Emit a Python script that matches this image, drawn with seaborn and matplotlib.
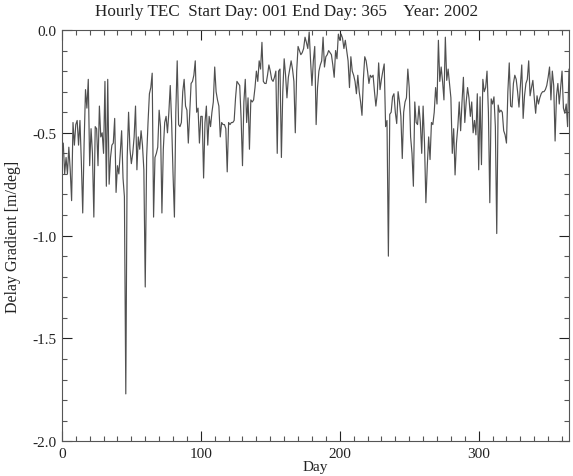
import numpy as np
import pandas as pd
import seaborn as sns
import matplotlib
matplotlib.use("Agg")
import matplotlib.pyplot as plt
from matplotlib.ticker import MultipleLocator

# Daily delay gradient [m/deg], one value per day
q1 = [-0.55, -0.70, -0.62, -0.70, -0.57, -0.68, -0.83, -0.45, -0.56, -0.46,
      -0.44, -0.56, -0.44, -0.64, -0.89, -0.55, -0.29, -0.38, -0.24, -0.66,
      -0.48, -0.60, -0.91, -0.47, -0.48, -0.66, -0.37, -0.52, -0.50, -0.60,
      -0.25, -0.76, -0.24, -0.75, -0.62, -0.56, -0.55, -0.43, -0.79, -0.66,
      -0.70, -0.60, -0.49, -0.72, -0.81, -1.77, -0.62, -0.40, -0.58, -0.65,
      -0.60, -0.52, -0.37, -0.68, -0.52, -0.58, -0.49, -0.56, -0.68, -1.25,
      -0.62, -0.45, -0.31, -0.28, -0.21, -0.91, -0.62, -0.60, -0.57, -0.39,
      -0.47, -0.89, -0.58, -0.45, -0.42, -0.50, -0.40, -0.27, -0.45, -0.70,
      -0.91, -0.40, -0.15, -0.46, -0.47, -0.45, -0.30, -0.24, -0.37, -0.39]
q2 = [-0.55, -0.40, -0.26, -0.25, -0.22, -0.15, -0.40, -0.38, -0.55, -0.42,
      -0.42, -0.72, -0.45, -0.37, -0.56, -0.42, -0.47, -0.40, -0.35, -0.18,
      -0.30, -0.34, -0.37, -0.52, -0.45, -0.46, -0.46, -0.48, -0.69, -0.45,
      -0.46, -0.45, -0.45, -0.44, -0.33, -0.25, -0.26, -0.27, -0.43, -0.66,
      -0.35, -0.24, -0.45, -0.33, -0.58, -0.34, -0.35, -0.34, -0.28, -0.20,
      -0.25, -0.15, -0.19, -0.06, -0.25, -0.26, -0.26, -0.22, -0.17, -0.20,
      -0.24, -0.25, -0.23, -0.20, -0.60, -0.20, -0.19, -0.62, -0.30, -0.14,
      -0.22, -0.33, -0.23, -0.19, -0.15, -0.19, -0.25, -0.50, -0.20, -0.08,
      -0.10, -0.12, -0.11, -0.09, -0.035, -0.06, -0.09, -0.01, -0.15, -0.27]
q3 = [-0.15, -0.08, -0.46, -0.28, -0.20, -0.17, -0.15, -0.035, -0.18, -0.13,
      -0.12, -0.10, -0.11, -0.12, -0.17, -0.23, -0.10, -0.14, -0.02, -0.05,
      -0.02, -0.04, -0.09, -0.05, -0.10, -0.15, -0.28, -0.13, -0.20, -0.22,
      -0.25, -0.31, -0.22, -0.30, -0.35, -0.415, -0.24, -0.13, -0.15, -0.20,
      -0.26, -0.22, -0.23, -0.22, -0.30, -0.37, -0.31, -0.16, -0.29, -0.24,
      -0.20, -0.165, -0.47, -0.44, -1.10, -0.41, -0.40, -0.325, -0.31, -0.40,
      -0.455, -0.30, -0.35, -0.42, -0.625, -0.40, -0.35, -0.33, -0.19, -0.28,
      -0.52, -0.60, -0.76, -0.35, -0.45, -0.46, -0.37, -0.45, -0.60, -0.37,
      -0.55, -0.84, -0.66, -0.52, -0.63, -0.45, -0.46, -0.40, -0.28, -0.36]
q4 = [-0.05, -0.25, -0.18, -0.25, -0.34, -0.035, -0.245, -0.19, -0.26, -0.33,
      -0.60, -0.48, -0.705, -0.55, -0.47, -0.35, -0.49, -0.35, -0.23, -0.45,
      -0.35, -0.28, -0.33, -0.42, -0.35, -0.50, -0.44, -0.51, -0.31, -0.68,
      -0.325, -0.655, -0.24, -0.30, -0.28, -0.20, -0.40, -0.84, -0.335, -0.36,
      -0.325, -0.47, -0.99, -0.365, -0.40, -0.39, -0.40, -0.49, -0.51, -0.55,
      -0.30, -0.16, -0.37, -0.375, -0.26, -0.22, -0.24, -0.30, -0.375, -0.27,
      -0.17, -0.43, -0.32, -0.26, -0.24, -0.15, -0.32, -0.28, -0.245, -0.33,
      -0.405, -0.32, -0.36, -0.33, -0.31, -0.30, -0.30, -0.29, -0.27, -0.23,
      -0.18, -0.34, -0.20, -0.27, -0.54, -0.32, -0.26, -0.36, -0.28, -0.20,
      -0.38, -0.405, -0.36, -0.47, -0.19]

gradient = q1 + q2 + q3 + q4
days = np.arange(1, len(gradient) + 1)
df = pd.DataFrame({"Day": days, "gradient": gradient})

sns.set_style("ticks")
plt.rcParams['font.family'] = ['Liberation Serif', 'DejaVu Serif']
plt.rcParams['axes.unicode_minus'] = False

fig = plt.figure(figsize=(5.73, 4.77), dpi=100)
ax = fig.add_axes([0.108, 0.073, 0.885, 0.862])

sns.lineplot(data=df, x="Day", y="gradient", ax=ax, color="#505050", linewidth=0.85)

ax.set_xlim(0, 365)
ax.set_ylim(-2.0, 0.0)
ax.xaxis.set_major_locator(MultipleLocator(100))
ax.xaxis.set_minor_locator(MultipleLocator(10))
ax.yaxis.set_major_locator(MultipleLocator(0.5))
ax.yaxis.set_minor_locator(MultipleLocator(0.1))
ax.yaxis.set_major_formatter(matplotlib.ticker.FormatStrFormatter('%.1f'))
ax.tick_params(which='both', direction='in', top=True, right=True, color='#555555', width=0.8)
ax.tick_params(which='major', length=7, labelsize=11, colors='#222222', pad=4)
ax.tick_params(which='minor', length=3.5)
for s in ax.spines.values():
    s.set_color('#555555')
    s.set_linewidth(0.8)

ax.set_xlabel('Day', fontsize=11, color='#222222', labelpad=0)
ax.set_ylabel('Delay Gradient [m/deg]', fontsize=11.5, color='#222222', labelpad=8)
fig.text(287 / 573, 1 - 12 / 477, 'Hourly TEC  Start Day: 001 End Day: 365    Year: 2002',
         fontsize=12.3, color='#222222', ha='center', va='center')

fig.savefig('out.png', dpi=100)
